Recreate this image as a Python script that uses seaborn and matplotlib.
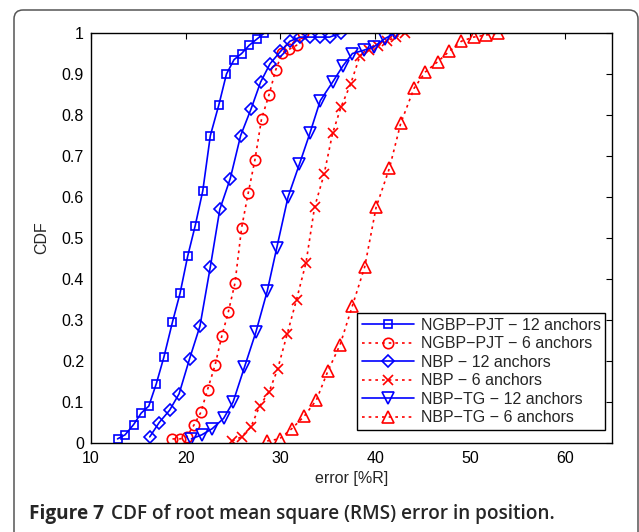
import matplotlib
matplotlib.use("Agg")
import matplotlib.pyplot as plt
import seaborn as sns
from matplotlib.patches import FancyBboxPatch

# ---- data ----
labels = ["NGBP\u2212PJT \u2212 12 anchors", "NGBP\u2212PJT \u2212 6 anchors",
          "NBP \u2212 12 anchors", "NBP \u2212 6 anchors",
          "NBP\u2212TG \u2212 12 anchors", "NBP\u2212TG \u2212 6 anchors"]

ngbp12_x = [12.8, 13.6, 14.5, 15.3, 16.1, 16.9, 17.7, 18.6, 19.4, 20.2, 21.0, 21.8, 22.6, 23.5, 24.3, 25.1, 25.9, 26.7, 27.5, 28.3]
ngbp12_y = [0.01, 0.02, 0.045, 0.073, 0.09, 0.145, 0.21, 0.295, 0.365, 0.455, 0.53, 0.615, 0.75, 0.825, 0.9, 0.935, 0.95, 0.97, 0.985, 1.0]

ngbp6_x = [18.6, 19.4, 20.1, 20.9, 21.6, 22.3, 23.1, 23.8, 24.5, 25.2, 25.9, 26.6, 27.3, 28.0, 28.8, 29.5, 30.2, 30.9, 31.7, 32.4]
ngbp6_y = [0.01, 0.01, 0.015, 0.045, 0.075, 0.13, 0.19, 0.26, 0.32, 0.39, 0.525, 0.61, 0.69, 0.79, 0.85, 0.91, 0.952, 0.96, 0.97, 1.0]

nbp12_x = [16.2, 17.2, 18.3, 19.3, 20.4, 21.5, 22.6, 23.6, 24.7, 25.8, 26.9, 27.9, 28.9, 30.0, 31.0, 32.1, 33.1, 34.2, 35.2, 36.4]
nbp12_y = [0.015, 0.05, 0.08, 0.12, 0.205, 0.285, 0.43, 0.57, 0.645, 0.75, 0.815, 0.88, 0.925, 0.955, 0.98, 0.99, 0.99, 0.99, 0.99, 1.0]

nbp6_x = [24.9, 25.9, 26.9, 27.8, 28.8, 29.7, 30.7, 31.7, 32.7, 33.6, 34.6, 35.5, 36.4, 37.4, 38.4, 39.3, 40.3, 41.2, 42.2, 43.1]
nbp6_y = [0.005, 0.015, 0.04, 0.09, 0.125, 0.18, 0.265, 0.35, 0.44, 0.575, 0.655, 0.755, 0.82, 0.875, 0.945, 0.958, 0.969, 0.98, 0.99, 1.0]

tg12_x = [20.6, 21.7, 22.8, 24.0, 25.0, 26.2, 27.4, 28.6, 29.6, 30.8, 32.0, 33.1, 34.2, 35.5, 36.6, 37.6, 38.8, 39.9, 41.0, 42.1]
tg12_y = [0.01, 0.02, 0.035, 0.06, 0.1, 0.185, 0.27, 0.37, 0.475, 0.6, 0.68, 0.755, 0.835, 0.88, 0.92, 0.95, 0.958, 0.967, 0.986, 1.0]

tg6_x = [28.6, 29.9, 31.2, 32.5, 33.8, 35.0, 36.3, 37.6, 38.9, 40.1, 41.5, 42.7, 44.1, 45.3, 46.6, 47.8, 49.1, 50.4, 51.7, 53.0]
tg6_y = [0.005, 0.01, 0.035, 0.065, 0.105, 0.175, 0.24, 0.335, 0.43, 0.575, 0.67, 0.78, 0.865, 0.905, 0.93, 0.955, 0.98, 0.99, 0.995, 1.0]

x_ticks = [10, 20, 30, 40, 50, 60]
y_ticks = [0, 0.1, 0.2, 0.3, 0.4, 0.5, 0.6, 0.7, 0.8, 0.9, 1]
y_ticklabels = ["0", "0.1", "0.2", "0.3", "0.4", "0.5", "0.6", "0.7", "0.8", "0.9", "1"]

caption_bold = "Figure 7"
caption_rest = "CDF of root mean square (RMS) error in position."

series = [(ngbp12_x, ngbp12_y), (ngbp6_x, ngbp6_y), (nbp12_x, nbp12_y),
          (nbp6_x, nbp6_y), (tg12_x, tg12_y), (tg6_x, tg6_y)]

# ---- styling ----
sns.set_theme(style="white")
plt.rcParams["font.family"] = ["Liberation Sans", "DejaVu Sans"]

BLUE = "#0000ff"
RED = "#ff0000"
DOT = (0, (1.6, 2.4))
styles = [
    dict(color=BLUE, marker="s", ms=6.0, ls="-"),
    dict(color=RED, marker="o", ms=7.5, ls=DOT),
    dict(color=BLUE, marker="D", ms=6.5, ls="-"),
    dict(color=RED, marker="x", ms=6.5, ls=DOT),
    dict(color=BLUE, marker="v", ms=8.5, ls="-"),
    dict(color=RED, marker="^", ms=8.5, ls=DOT),
]

W, H = 639, 532
fig = plt.figure(figsize=(W / 100, H / 100), dpi=100)
fig.patch.set_facecolor("white")

# figure frame (rounded box, open at the bottom)
frame = FancyBboxPatch((0.14, -0.5), 6.24, 5.72,
                       boxstyle="round,pad=0,rounding_size=0.09",
                       transform=fig.dpi_scale_trans, fill=False,
                       edgecolor="#555555", linewidth=1.1, clip_on=False)
fig.patches.append(frame)

ax = fig.add_axes([91 / W, 1 - 443 / H, (612 - 91) / W, (443 - 33) / H])

for (xs, ys), lab, st in zip(series, labels, styles):
    sns.lineplot(x=xs, y=ys, ax=ax, estimator=None, sort=False,
                 color=st["color"], linestyle=st["ls"], linewidth=1.2,
                 marker=st["marker"], markersize=st["ms"],
                 markerfacecolor="none", markeredgecolor=st["color"],
                 markeredgewidth=1.2, label=lab)

ax.set_xlim(10, 65)
ax.set_ylim(0, 1)
ax.set_xticks(x_ticks)
ax.set_xticklabels([str(t) for t in x_ticks])
ax.set_yticks(y_ticks)
ax.set_yticklabels(y_ticklabels)
ax.tick_params(direction="in", length=4, width=0.8, top=True, right=True,
               labelsize=11.5, colors="black")
ax.tick_params(axis="x", pad=6)
ax.tick_params(axis="y", pad=5)
for s in ax.spines.values():
    s.set_color("black")
    s.set_linewidth(1.0)
    s.set_visible(True)

ax.set_xlabel("error [%R]", fontsize=11.5, labelpad=3)
ax.set_ylabel("CDF", fontsize=11.5, labelpad=9)

leg = ax.legend(loc="upper left", bbox_to_anchor=(0.51, 0.317),
                borderaxespad=0, fontsize=11.5, frameon=True, fancybox=False,
                handlelength=3.3, handletextpad=0.4, labelspacing=0.22,
                borderpad=0.3, numpoints=1, framealpha=1)
leg.get_frame().set_edgecolor("black")
leg.get_frame().set_linewidth(1.0)

# caption, fitted to the reference width
cap_font = ["Open Sans", "DejaVu Sans"]
x0, x_end, yc = 29, 556, 514
fig.canvas.draw()
r = fig.canvas.get_renderer()
fs = 12.0
t1 = fig.text(x0 / W, 1 - yc / H, caption_bold, fontsize=fs, fontweight="bold",
              family=cap_font, va="center", ha="left")
t2 = fig.text(0, 1 - yc / H, caption_rest, fontsize=fs, fontweight="semibold",
              family=cap_font, va="center", ha="left")
for _ in range(3):
    t1.set_fontsize(fs)
    t2.set_fontsize(fs)
    b1 = t1.get_window_extent(r)
    t2.set_x((b1.x1 + 0.35 * fs * 100 / 72) / W)
    b2 = t2.get_window_extent(r)
    fs *= (x_end - x0) / (b2.x1 - b1.x0)
t1.set_fontsize(fs)
t2.set_fontsize(fs)
b1 = t1.get_window_extent(r)
t2.set_x((b1.x1 + 0.35 * fs * 100 / 72) / W)

fig.savefig("out.png", dpi=100, facecolor="white")
